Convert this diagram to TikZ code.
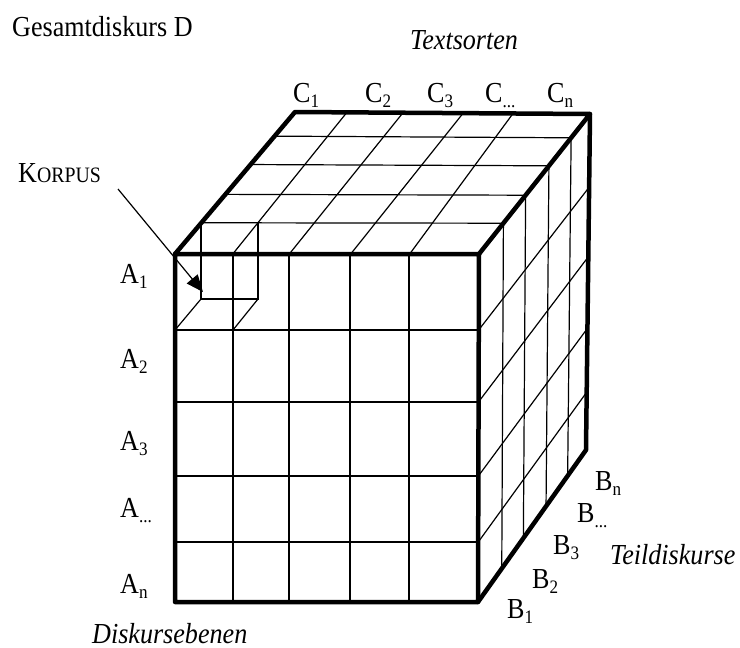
\documentclass[tikz,border=0pt]{standalone}
\usepackage{fontspec}
\setmainfont{Liberation Serif}[FakeStretch=0.9]
\usetikzlibrary{calc,arrows.meta}
\newcommand\mysub[1]{\raisebox{-5pt}{\fontsize{19}{19}\selectfont #1}}
\begin{document}
\begin{tikzpicture}[x=1pt,y=-1pt,
  edge/.style={line width=4.5pt,line join=round,line cap=round},
  gridline/.style={line width=1.2pt},
  lbl/.style={inner sep=0pt,anchor=base west,font=\fontsize{29}{34}\selectfont},
  ilbl/.style={lbl,font=\fontsize{29}{34}\selectfont\itshape}]
\useasboundingbox (0,0) rectangle (740,648);
% cube corners
\coordinate (FTL) at (175,254);
\coordinate (FTR) at (479,254);
\coordinate (FBL) at (175,602);
\coordinate (FBR) at (478,602);
\coordinate (BTL) at (295,112);
\coordinate (BTR) at (590,114);
\coordinate (BBR) at (586,450);
% front face grid
\foreach \xx in {233,289,350,409} \draw[gridline] (\xx,254) -- (\xx,602);
\foreach \yy in {330,402,476,542} \draw[gridline] (175,\yy) -- (478,\yy);
% top face grid
\foreach \f/\g in {0.19/0.176,0.376/0.366,0.578/0.57,0.772/0.739}
  \draw[gridline] ($(FTL)!\f!(FTR)$) -- ($(BTL)!\g!(BTR)$);
\foreach \dd in {0.22,0.42,0.63,0.83}
  \draw[gridline] ($(FTL)!\dd!(BTL)$) -- ($(FTR)!\dd!(BTR)$);
% right face grid
\foreach \dd in {0.22,0.42,0.63,0.83}
  \draw[gridline] ($(FTR)!\dd!(BTR)$) -- ($(FBR)!\dd!(BBR)$);
\foreach \rr in {0.218,0.425,0.638,0.828}
  \draw[gridline] ($(FTR)!\rr!(FBR)$) -- ($(BTR)!\rr!(BBR)$);
% corpus cube
\coordinate (cTL) at (201,223);
\coordinate (cBL) at (201,299);
\coordinate (cBR) at (258,299);
\coordinate (cTR) at (258,223);
\draw[gridline] (cTL) -- (cBL) -- (cBR) -- (cTR);
\draw[gridline] (cBL) -- (175,330);
\draw[gridline] (cBR) -- (233,330);
% outlines
\draw[edge] (FTL) -- (FTR) -- (FBR) -- (FBL) -- cycle;
\draw[edge] (FTL) -- (BTL) -- (BTR) -- (FTR);
\draw[edge] (BTR) -- (BBR) -- (FBR);
% labels
\node[lbl] (title) at (12,36) {Gesamtdiskurs D};
\node[ilbl] (ts) at (410,49) {Textsorten};
\node[lbl] (c1) at (293,102) {C\mysub{1}};
\node[lbl] (c2) at (365,102) {C\mysub{2}};
\node[lbl] (c3) at (427,102) {C\mysub{3}};
\node[lbl] (cd) at (485,102) {C\mysub{...}};
\node[lbl] (cn) at (547,102) {C\mysub{n}};
\node[lbl] (a1) at (120,283) {A\mysub{1}};
\node[lbl] (a2) at (120,368) {A\mysub{2}};
\node[lbl] (a3) at (120,450) {A\mysub{3}};
\node[lbl] (ad) at (120,517) {A\mysub{...}};
\node[lbl] (an) at (120,593) {A\mysub{n}};
\node[lbl] (bn) at (595,490) {B\mysub{n}};
\node[lbl] (bd) at (577,522) {B\mysub{...}};
\node[lbl] (b3) at (553,554) {B\mysub{3}};
\node[lbl] (b2) at (532,588) {B\mysub{2}};
\node[lbl] (b1) at (507,618) {B\mysub{1}};
\node[ilbl] (td) at (610,564) {Teildiskurse};
\node[ilbl] (de) at (92,643) {Diskursebenen};
\node[lbl] (korpus) at (18,182) {K{\fontsize{22}{26}\selectfont ORPUS}};
% arrow
\coordinate (kstart) at (118,189);
\coordinate (corp) at (203,292);
\draw[gridline,-{Triangle[length=17pt,width=14pt]}] (kstart) -- (corp);
\end{tikzpicture}
\end{document}
